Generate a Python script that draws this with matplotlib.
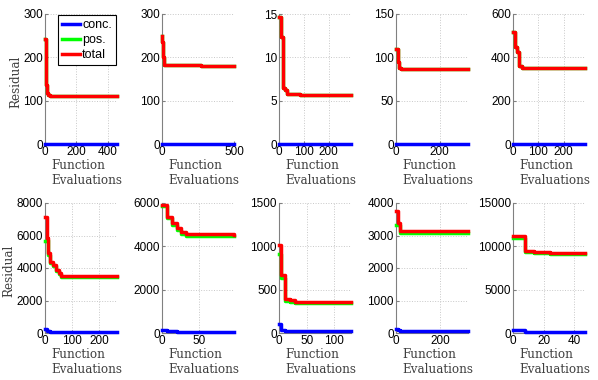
import numpy as np
import matplotlib
matplotlib.use('Agg')
import matplotlib.pyplot as plt

# function evaluation at which each step starts, last entry = end of run
evals = [
    [0, 6, 12, 20, 30, 460],
    [0, 3, 8, 14, 270, 500],
    [0, 8, 16, 24, 31, 85, 290],
    [0, 7, 14, 22, 330],
    [0, 8, 16, 24, 37, 285],
    [0, 6, 12, 18, 30, 40, 50, 59, 265],
    [0, 7, 13, 20, 26, 32, 98],
    [0, 4, 11, 20, 28, 130],
    [0, 7, 16, 325],
    [0, 8, 14, 24, 47],
]
total = [
    [242, 137, 118, 112, 110, 110],
    [250, 235, 200, 183, 179, 179],
    [14.7, 12.4, 6.5, 6.2, 5.8, 5.7, 5.7],
    [110, 95, 88, 86, 86],
    [515, 450, 425, 360, 350, 350],
    [7160, 5830, 4900, 4390, 4180, 3870, 3670, 3500, 3480],
    [5910, 5370, 5060, 4830, 4650, 4550, 4530],
    [1010, 665, 394, 378, 360, 360],
    [3760, 3400, 3140, 3140],
    [11200, 9470, 9350, 9200, 9200],
]
pos = [
    [242, 137, 118, 112, 110, 110],
    [250, 235, 200, 183, 179, 179],
    [14.7, 12.4, 6.5, 6.2, 5.8, 5.7, 5.7],
    [110, 95, 88, 86, 86],
    [515, 450, 425, 360, 350, 350],
    [5650, 5700, 4800, 4300, 4120, 3820, 3620, 3460, 3440],
    [5850, 5300, 4990, 4770, 4590, 4500, 4480],
    [910, 637, 367, 352, 345, 345],
    [3320, 3320, 3090, 3090],
    [10940, 9300, 9200, 9080, 9080],
]
conc = [
    [0.5, 0.5, 0.5, 0.5, 0.5, 0.5],
    [0.5, 0.5, 0.5, 0.5, 0.5, 0.5],
    [0.02, 0.02, 0.02, 0.02, 0.02, 0.02, 0.02],
    [0.3, 0.3, 0.3, 0.3, 0.3],
    [1, 1, 1, 1, 1, 1],
    [250, 150, 100, 80, 70, 60, 50, 45, 40],
    [120, 100, 80, 60, 50, 40, 40],
    [104, 38, 25, 19, 19, 19],
    [130, 80, 60, 60],
    [300, 80, 80, 80, 80],
]
ylims = [300, 300, 15, 150, 600, 8000, 6000, 1500, 4000, 15000]
yticks = [
    [0, 100, 200, 300], [0, 100, 200, 300], [0, 5, 10, 15], [0, 50, 100, 150],
    [0, 200, 400, 600], [0, 2000, 4000, 6000, 8000], [0, 2000, 4000, 6000],
    [0, 500, 1000, 1500], [0, 1000, 2000, 3000, 4000], [0, 5000, 10000, 15000],
]
xticks = [
    [0, 200, 400], [0, 500], [0, 100, 200], [0, 200], [0, 100, 200],
    [0, 100, 200], [0, 50], [0, 50, 100], [0, 200], [0, 20, 40],
]

W, H = 598, 380
fig = plt.figure(figsize=(W / 100, H / 100), dpi=100)
lefts = [45, 162, 279, 396, 513]
tops = [14, 203]
aw, ah = 72, 130

tickfont = 'Liberation Sans'
labfont = 'DejaVu Serif'
gray = '#808080'

for k in range(10):
    r, c = divmod(k, 5)
    ax = fig.add_axes([lefts[c] / W, 1 - (tops[r] + ah) / H, aw / W, ah / H])
    x = evals[k]
    ax.plot(x, conc[k], color='#0000ff', lw=2.5, drawstyle='steps-post', clip_on=False, label='conc.', zorder=3)
    ax.plot(x, pos[k], color='#00ff00', lw=2.5, drawstyle='steps-post', clip_on=False, label='pos.', zorder=4)
    ax.plot(x, total[k], color='#ff0000', lw=2.5, drawstyle='steps-post', clip_on=False, label='total', zorder=5)
    ax.set_xlim(0, x[-1])
    ax.set_ylim(0, ylims[k])
    ax.set_xticks(xticks[k])
    ax.set_yticks(yticks[k])
    ax.grid(True, ls=':', color='#c8c8c8', lw=0.7)
    ax.spines['top'].set_visible(False)
    ax.spines['right'].set_visible(False)
    ax.spines['left'].set_color(gray)
    ax.spines['bottom'].set_color(gray)
    ax.tick_params(direction='in', length=2, color=gray, pad=1.5, labelsize=8.5)
    for lab in ax.get_xticklabels() + ax.get_yticklabels():
        lab.set_fontfamily(tickfont)
    ax.set_xlabel('Function\nEvaluations', fontfamily=labfont, fontsize=8.6,
                  multialignment='left', color='#404040', linespacing=1.25)
    ax.xaxis.set_label_coords(0.58, -0.115, transform=ax.transAxes)
    ax.xaxis.label.set_va('top')
    if c == 0:
        ax.set_ylabel('Residual', fontfamily=labfont, fontsize=8.6, color='#404040')
        ax.yaxis.set_label_coords(-0.31 if r == 0 else -0.41, 0.48)
    if k == 0:
        leg = ax.legend(loc='upper right', prop={'family': tickfont, 'size': 9},
                        handlelength=1.5, handletextpad=0.15, borderaxespad=0.1,
                        borderpad=0.3, labelspacing=0.25, fancybox=False, framealpha=1)
        leg.get_frame().set_edgecolor('black')
        leg.get_frame().set_linewidth(0.8)

fig.savefig('out.png', dpi=100)
